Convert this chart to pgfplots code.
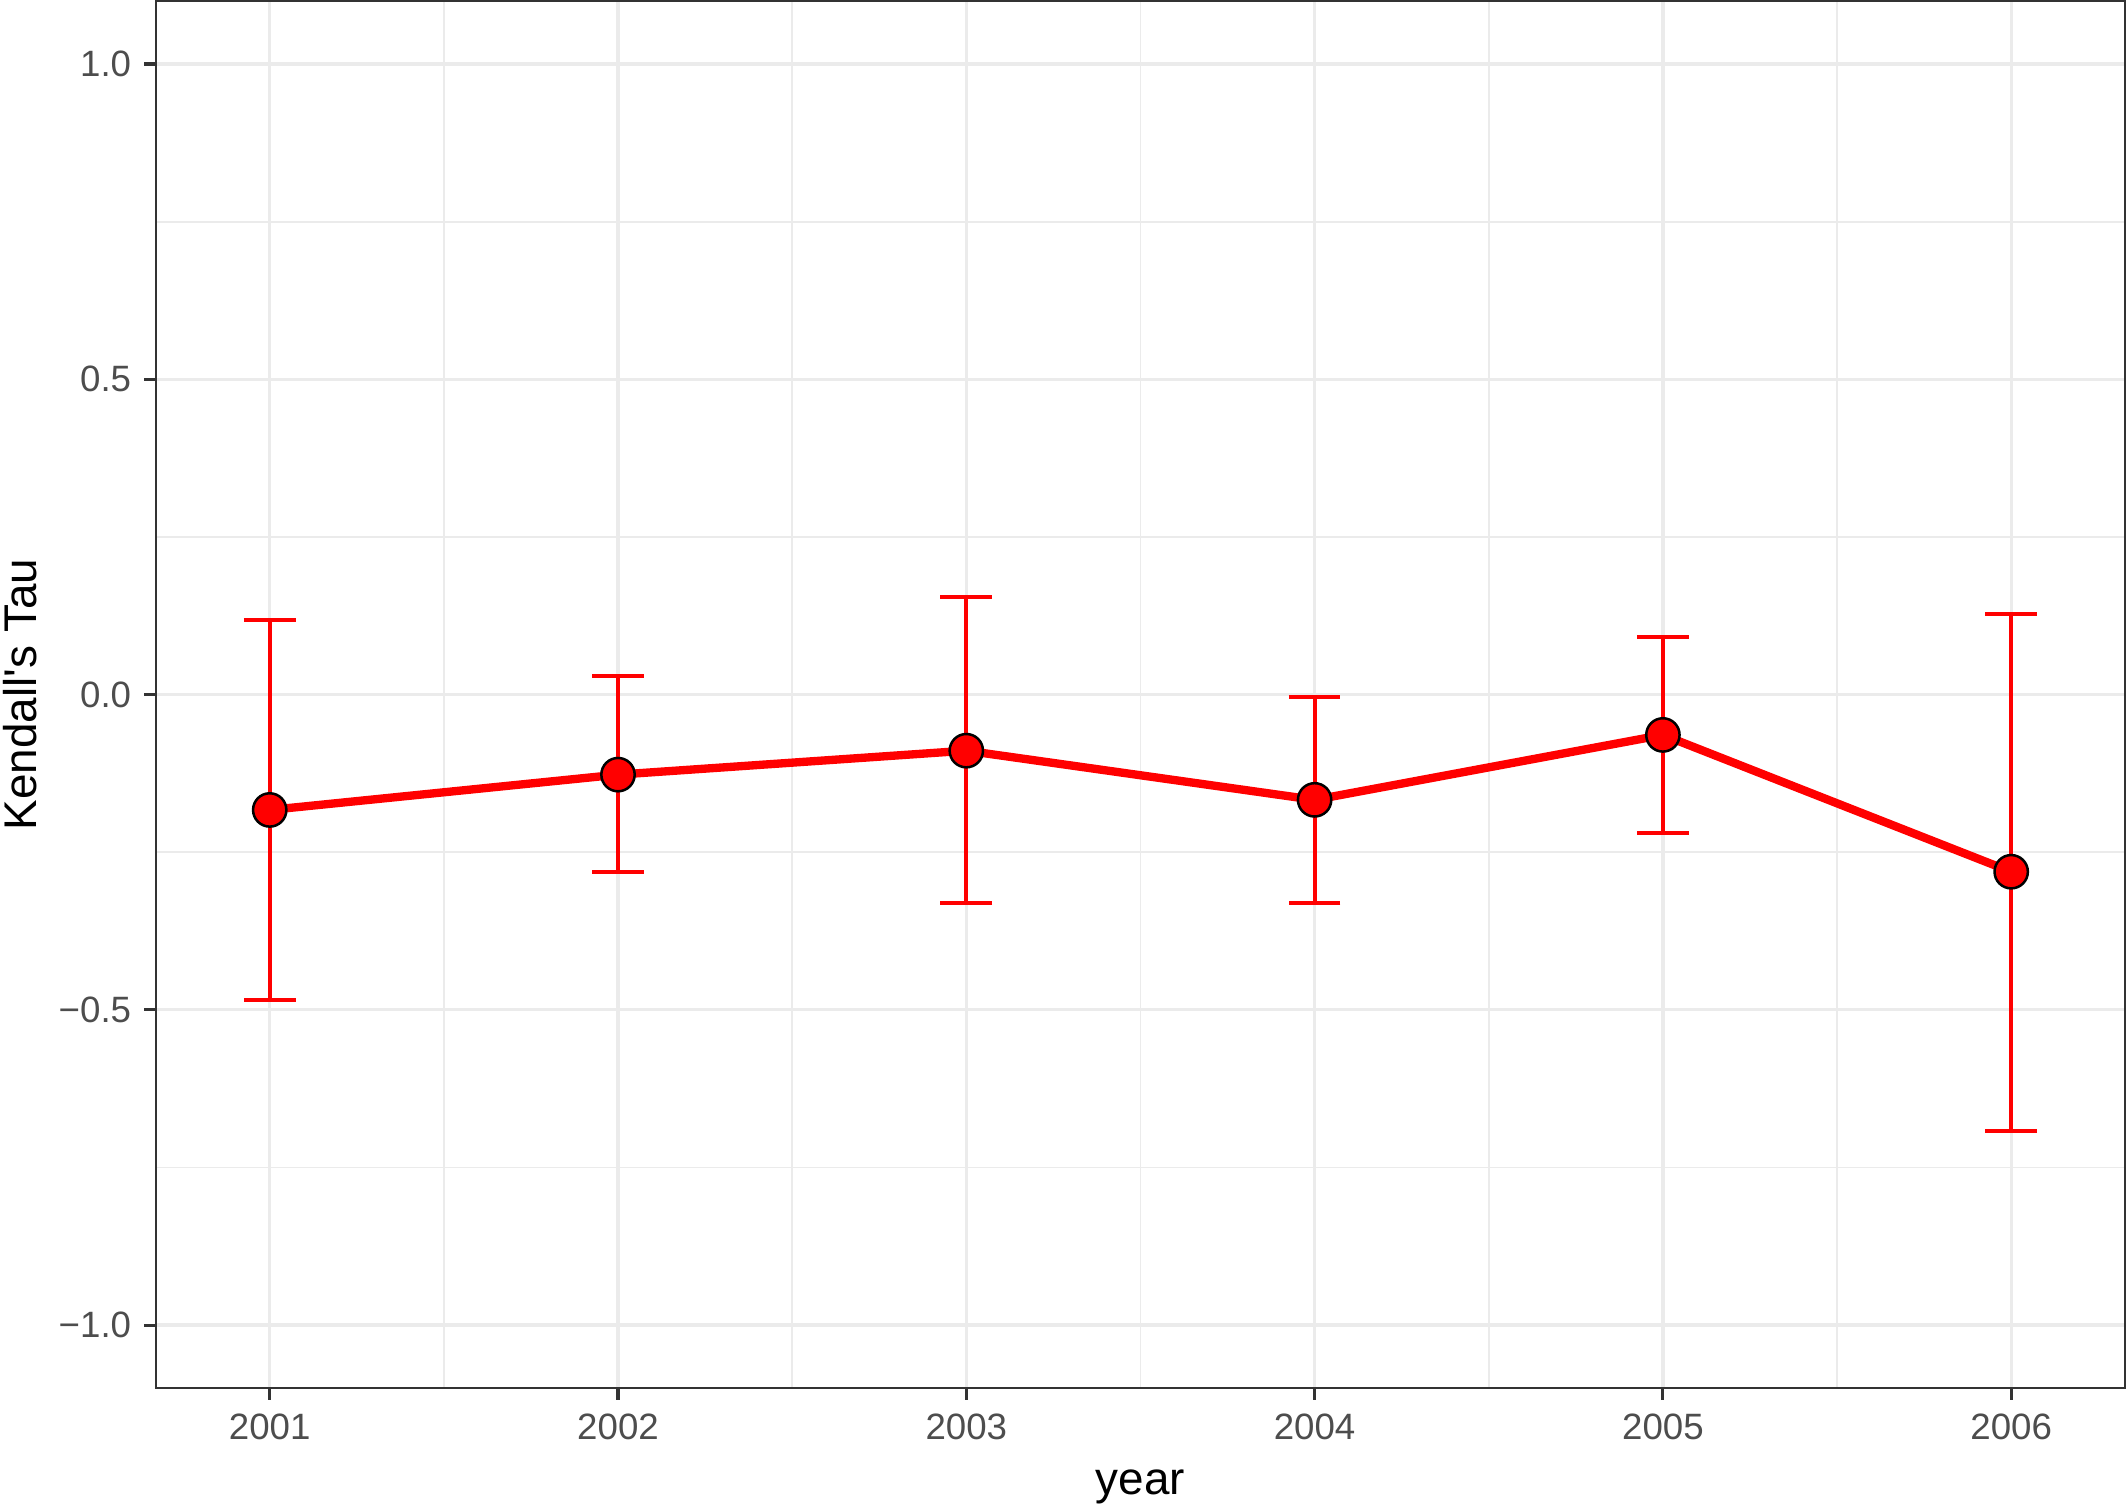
\documentclass[border=0pt]{standalone}
\usepackage{pgfplots}
\pgfplotsset{compat=1.18}
\usepackage{pgfplotstable}
\usepackage{fontspec}
\setmainfont{Liberation Sans}
\definecolor{gridc}{HTML}{EBEBEB}
\definecolor{framec}{HTML}{333333}
\definecolor{tickc}{HTML}{4D4D4D}
\pgfplotstableread{
year tau ep em
2001 -0.183 0.301 0.302
2002 -0.127 0.156 0.154
2003 -0.089 0.244 0.242
2004 -0.167 0.163 0.163
2005 -0.064 0.155 0.156
2006 -0.281 0.409 0.411
}\tautable
\begin{document}
\begin{tikzpicture}
\begin{axis}[
  name=ax,
  scale only axis,
  width=472.6pt, height=332.9pt,
  xmin=2000.673, xmax=2006.327,
  ymin=-1.1, ymax=1.1,
  xtick={2001,2002,2003,2004,2005,2006},
  xticklabels={2001,2002,2003,2004,2005,2006},
  ytick={-1,-0.5,0,0.5,1},
  yticklabels={−1.0,−0.5,0.0,0.5,1.0},
  minor x tick num=1,
  minor y tick num=1,
  grid=both,
  major grid style={draw=gridc, line width=0.8pt},
  minor grid style={draw=gridc, line width=0.4pt},
  axis line style={draw=framec, line width=0.55pt},
  tick align=outside,
  major tick length=2.75pt,
  minor tick length=0pt,
  tick style={draw=framec, line width=0.75pt},
  xtick pos=bottom, ytick pos=left,
  xticklabel style={font=\fontsize{8.8}{10}\selectfont, text=tickc, inner sep=0pt, anchor=north, yshift=-3.3pt},
  yticklabel style={font=\fontsize{8.8}{10}\selectfont, text=tickc, inner sep=0pt, anchor=east, xshift=-3pt},
  xlabel={year},
  ylabel={Kendall\textquotesingle s Tau},
  xlabel style={font=\fontsize{11}{13}\selectfont, at={([yshift=-25.5pt]axis description cs:0.5,0)}, anchor=base, inner sep=0pt},
  ylabel style={font=\fontsize{11}{13}\selectfont, at={([xshift=-28.6pt]axis description cs:0,0.5)}, anchor=base, rotate=0, inner sep=0pt},
  clip=false,
]
\addplot[draw=none, mark=none, forget plot,
  error bars/.cd, y dir=both, y explicit, error mark=|,
  error bar style={draw=red, line width=1pt},
  error mark options={draw=red, line width=1pt, mark size=6.2pt}]
  table[x=year, y=tau, y error plus=ep, y error minus=em]{\tautable};
\addplot[red, line width=2pt, mark=none, forget plot] table[x=year, y=tau]{\tautable};
\addplot[only marks, mark=*, mark size=4pt, mark options={fill=red, draw=black, line width=0.6pt}] table[x=year, y=tau]{\tautable};
\end{axis}
\pgfresetboundingbox
\path ([shift={(-37.4pt,-28.3pt)}]ax.south west) rectangle ([shift={(0.7pt,0.24pt)}]ax.north east);
\end{tikzpicture}
\end{document}
